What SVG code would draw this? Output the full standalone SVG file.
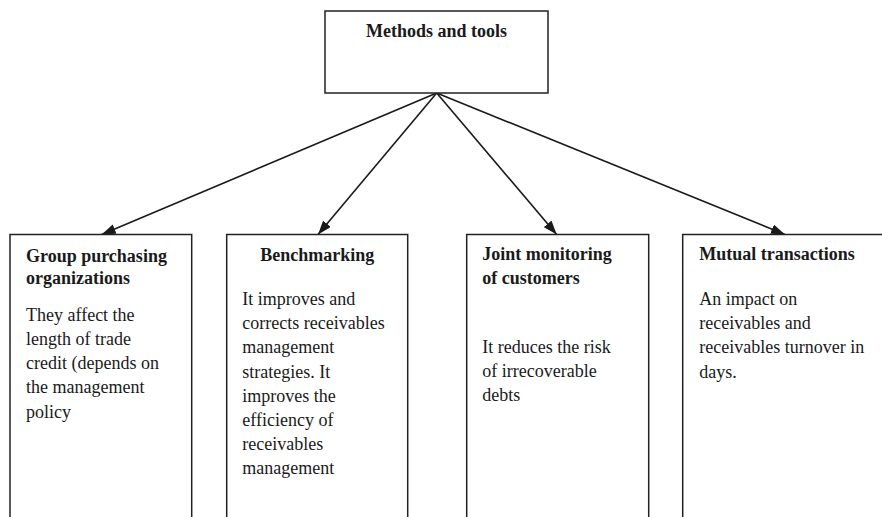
<svg xmlns="http://www.w3.org/2000/svg" width="882" height="517" viewBox="0 0 882 517">
<defs>
<style>
.box{fill:#fff;stroke:#222;stroke-width:1.5}
.h{font-family:"Liberation Serif","Times New Roman",serif;font-size:18px;font-weight:bold;fill:#1a1a1a}
.t{font-family:"Liberation Serif","Times New Roman",serif;font-size:18px;fill:#1a1a1a}
.c{stroke:#1a1a1a;stroke-width:1.6;fill:none}
</style>
<marker id="ah" viewBox="0 0 14 10" refX="14" refY="5" markerWidth="14" markerHeight="10" markerUnits="userSpaceOnUse" orient="auto">
<path d="M0,0 L14,5 L0,10 Z" fill="#1a1a1a"/>
</marker>
</defs>
<rect width="882" height="517" fill="#fff"/>
<g id="connectors">
<line class="c" x1="436.7" y1="93" x2="101.7" y2="234.5" marker-end="url(#ah)"/>
<line class="c" x1="436.7" y1="93" x2="318" y2="234.5" marker-end="url(#ah)"/>
<line class="c" x1="436.7" y1="93" x2="556.7" y2="234.5" marker-end="url(#ah)"/>
<line class="c" x1="436.7" y1="93" x2="785" y2="234.5" marker-end="url(#ah)"/>
</g>
<g id="methods">
<rect class="box" x="325" y="11" width="223" height="82"/>
<text class="h" x="436.5" y="36.5" text-anchor="middle">Methods and tools</text>
</g>
<g id="group-purchasing">
<rect class="box" x="10" y="234.5" width="181.7" height="300"/>
<text class="h" x="26" y="261.5">Group purchasing</text>
<text class="h" x="26" y="283.5">organizations</text>
<text class="t" x="26" y="320.7">They affect the</text>
<text class="t" x="26" y="345">length of trade</text>
<text class="t" x="26" y="369.2">credit (depends on</text>
<text class="t" x="26" y="393.4">the management</text>
<text class="t" x="26" y="417.6">policy</text>
</g>
<g id="benchmarking">
<rect class="box" x="226.7" y="234.5" width="181" height="300"/>
<text class="h" x="317.2" y="261" text-anchor="middle">Benchmarking</text>
<text class="t" x="242.3" y="305">It improves and</text>
<text class="t" x="242.3" y="329.2">corrects receivables</text>
<text class="t" x="242.3" y="353.4">management</text>
<text class="t" x="242.3" y="377.6">strategies. It</text>
<text class="t" x="242.3" y="401.8">improves the</text>
<text class="t" x="242.3" y="426">efficiency of</text>
<text class="t" x="242.3" y="450.2">receivables</text>
<text class="t" x="242.3" y="474.4">management</text>
</g>
<g id="joint-monitoring">
<rect class="box" x="466.7" y="234.5" width="182" height="300"/>
<text class="h" x="482.3" y="260">Joint monitoring</text>
<text class="h" x="482.3" y="284">of customers</text>
<text class="t" x="482.3" y="352.7">It reduces the risk</text>
<text class="t" x="482.3" y="376.9">of irrecoverable</text>
<text class="t" x="482.3" y="401.1">debts</text>
</g>
<g id="mutual-transactions">
<rect class="box" x="682.7" y="234.5" width="220" height="300"/>
<text class="h" x="699.3" y="260">Mutual transactions</text>
<text class="t" x="699.3" y="305">An impact on</text>
<text class="t" x="699.3" y="329.2">receivables and</text>
<text class="t" x="699.3" y="353.4">receivables turnover in</text>
<text class="t" x="699.3" y="377.6">days.</text>
</g>
</svg>
